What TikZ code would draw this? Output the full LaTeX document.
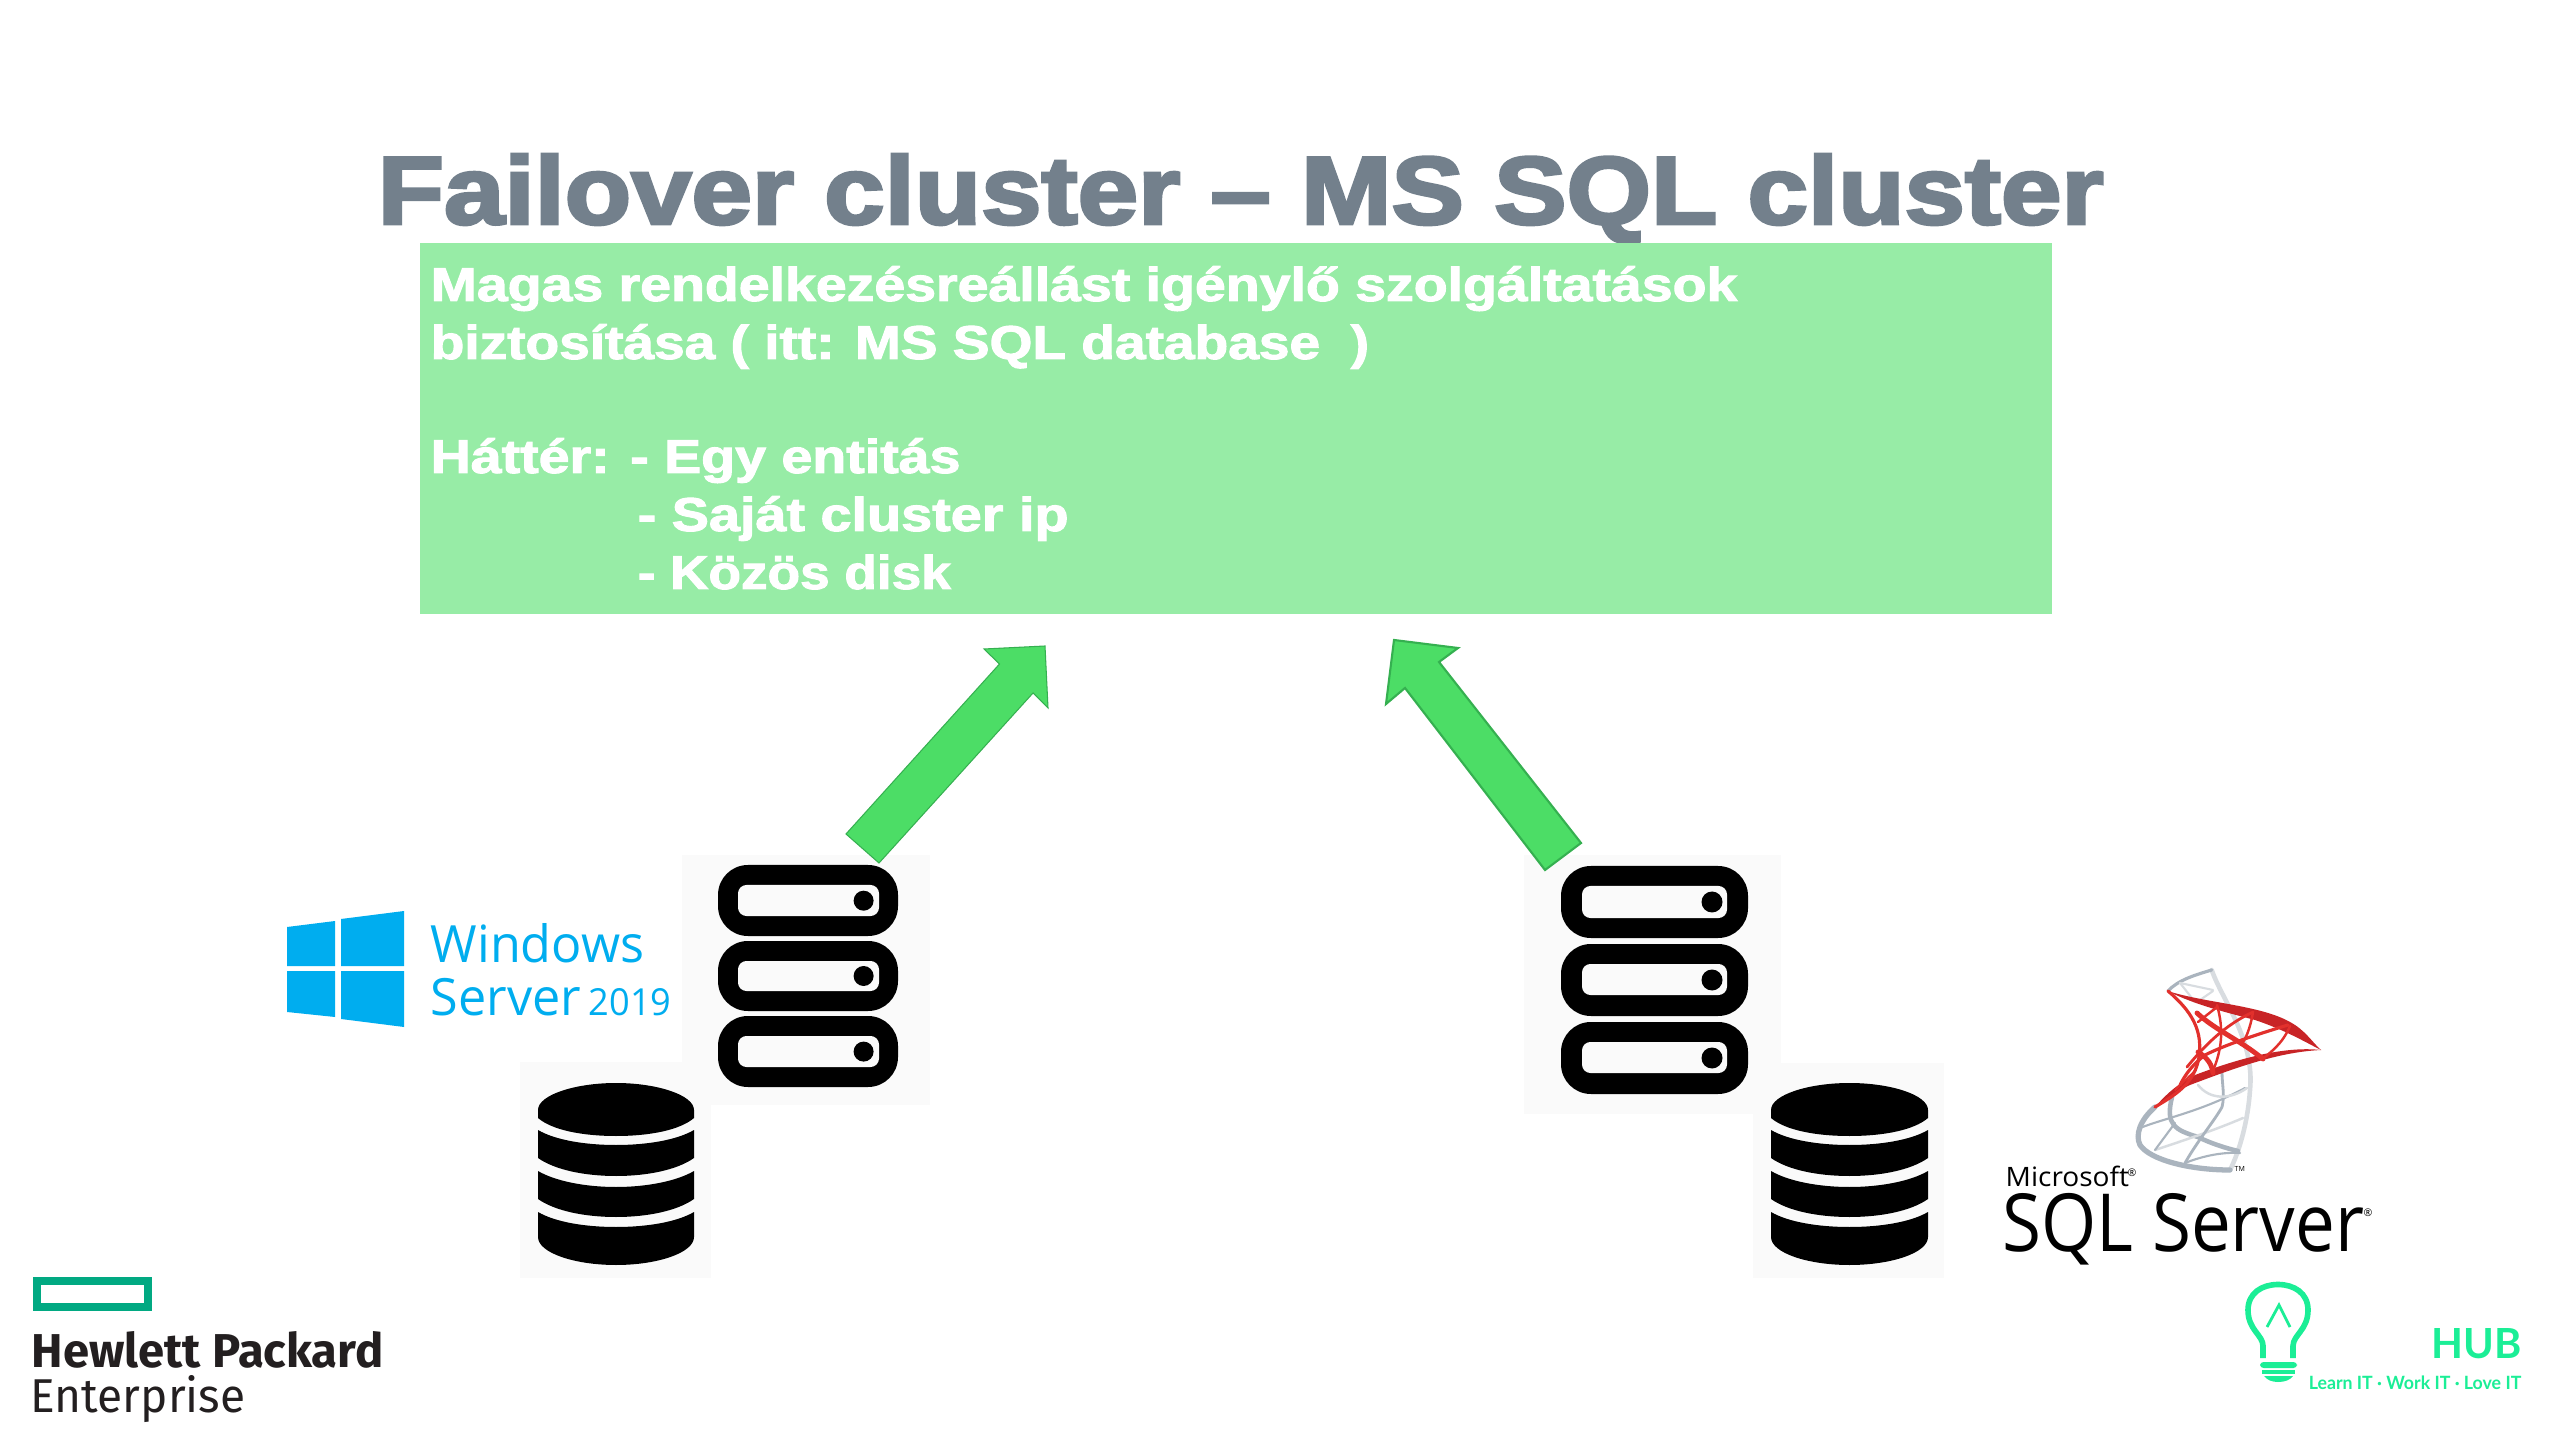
\documentclass[tikz,border=0pt]{standalone}
\usepackage{fontspec}
\setmainfont{Liberation Sans}
\newfontfamily\headfont[FakeBold=3]{Liberation Sans Bold}
\newfontfamily\bodyfont[FakeBold=2]{Liberation Sans Bold}
\newfontfamily\logofont{Open Sans}
\newfontfamily\hpefont{Fira Sans}
\newfontfamily\hpeboldfont{Fira Sans Bold}
\newfontfamily\hubfont{Lato}
\newfontfamily\hubboldfont{Lato Bold}
\definecolor{headgray}{RGB}{115,128,140}
\definecolor{bandgreen}{RGB}{151,236,166}
\definecolor{arrowgreen}{RGB}{76,221,102}
\definecolor{arrowedge}{RGB}{53,176,80}
\definecolor{iconback}{RGB}{250,250,250}
\definecolor{winblue}{RGB}{0,173,239}
\definecolor{hpegreen}{RGB}{1,169,130}
\definecolor{hpeink}{RGB}{35,31,32}
\definecolor{hubgreen}{RGB}{27,238,150}
\definecolor{sqlred}{RGB}{226,48,44}
\definecolor{sqldark}{RGB}{200,36,38}
\definecolor{sqlgray}{RGB}{170,180,190}
\definecolor{sqllight}{RGB}{216,220,224}
\tikzset{
  headline/.style={anchor=base west, inner sep=0pt, text=headgray,
    font=\headfont\fontsize{27.4}{30}\selectfont},
  bodyline/.style={anchor=base west, inner sep=0pt, text=white,
    font=\bodyfont\fontsize{13.5}{15}\selectfont},
  blockarrow/.style={fill=arrowgreen, draw=arrowedge, line join=miter},
  iconpanel/.style={fill=iconback},
  serverouter/.style={fill=black, rounded corners=8.5pt},
  serverinner/.style={fill=iconback, rounded corners=2.4pt},
  winline/.style={anchor=base west, inner sep=0pt, text=winblue},
  sqltext/.style={anchor=base west, inner sep=0pt, text=black},
  hpetext/.style={anchor=base west, inner sep=0pt, text=hpeink},
  hubtext/.style={anchor=base east, inner sep=0pt, text=hubgreen},
  sqlstrand/.style={draw=sqlred, line cap=round},
  grayarc/.style={draw=sqlgray, line cap=round},
  lightarc/.style={draw=sqllight, line cap=round},
}

\begin{document}
\begin{tikzpicture}[x=0.01cm, y=-0.01cm]
  \useasboundingbox (0,0) rectangle (2560,1440);
  \fill[white] (0,0) rectangle (2560,1440);

  % title and text band
  \node[headline] (title) at (377,224) {\scalebox{1.127}[1]{Failover cluster – MS SQL cluster}};
  \fill[bandgreen] (420,243) rectangle (2052,614);
  \node[bodyline] (lineone) at (430,301) {\scalebox{1.168}[1]{Magas rendelkezésreállást igénylő szolgáltatások}};
  \node[bodyline] (linetwo) at (430,359) {\scalebox{1.16}[1]{biztosítása ( itt: MS SQL database \ )}};
  \node[bodyline] (linethree) at (430,473) {\scalebox{1.17}[1]{Háttér: - Egy entitás}};
  \node[bodyline] (linefour) at (637,531) {\scalebox{1.175}[1]{- Saját cluster ip}};
  \node[bodyline] (linefive) at (637,589) {\scalebox{1.12}[1]{- Közös disk}};

  % panels behind the icons
  \fill[iconpanel] (682,855) rectangle (930,1105);
  \fill[iconpanel] (520,1062) rectangle (711,1278);
  \fill[iconpanel] (1524,855) rectangle (1781,1114);
  \fill[iconpanel] (1753,1063) rectangle (1944,1278);

  % block arrows
  \draw[blockarrow, line width=0.3pt] (846,834) -- (999.5,664) -- (984,649) -- (1045,646) -- (1048,708) -- (1033,693) -- (879,863) -- cycle;
  \draw[blockarrow, line width=0.6pt] (1581,843) -- (1439,662) -- (1458,648) -- (1394,640) -- (1386,704) -- (1405,688) -- (1545,870) -- cycle;

  % left server
  \fill[serverouter] (718,865) rectangle (898,936);
  \fill[serverinner] (738,885) rectangle (879,916);
  \fill[black] (863.6,900.7) circle[radius=10];
  \fill[serverouter] (718,941) rectangle (898,1011);
  \fill[serverinner] (738,961) rectangle (879,991);
  \fill[black] (863.6,976) circle[radius=10];
  \fill[serverouter] (718,1016) rectangle (898,1087);
  \fill[serverinner] (738,1036) rectangle (879,1067);
  \fill[black] (863.6,1051.6) circle[radius=10];

  % right server
  \fill[serverouter] (1561,866) rectangle (1748,938);
  \fill[serverinner] (1582,886) rectangle (1727,918);
  \fill[black] (1712,902) circle[radius=10.5];
  \fill[serverouter] (1561,944) rectangle (1748,1016);
  \fill[serverinner] (1582,964) rectangle (1727,995);
  \fill[black] (1712,980) circle[radius=10.5];
  \fill[serverouter] (1561,1022) rectangle (1748,1094);
  \fill[serverinner] (1582,1042) rectangle (1727,1073);
  \fill[black] (1712,1058) circle[radius=10.5];

  % left database
  \fill[black] (538,1118) -- (538,1110) .. controls (538,1095) and (575,1083) .. (616,1083) .. controls (657,1083) and (694,1095) .. (694,1110) -- (694,1118) .. controls (680,1130) and (650,1136) .. (616,1136) .. controls (582,1136) and (552,1130) .. (538,1118) -- cycle;
  \fill[black] (538,1130) .. controls (555,1140) and (585,1145) .. (616,1145) .. controls (647,1145) and (677,1140) .. (694,1130) -- (694,1158) .. controls (677,1170) and (647,1176) .. (616,1176) .. controls (585,1176) and (555,1170) .. (538,1158) -- cycle;
  \fill[black] (538,1171) .. controls (555,1181) and (585,1187) .. (616,1187) .. controls (647,1187) and (677,1181) .. (694,1171) -- (694,1199) .. controls (677,1211) and (647,1217) .. (616,1217) .. controls (585,1217) and (555,1211) .. (538,1199) -- cycle;
  \fill[black] (538,1212) .. controls (555,1222) and (585,1227) .. (616,1227) .. controls (647,1227) and (677,1222) .. (694,1212) -- (694,1237) .. controls (694,1253) and (657,1265) .. (616,1265) .. controls (575,1265) and (538,1253) .. (538,1237) -- cycle;

  % right database
  \fill[black] (1771,1118) -- (1771,1110) .. controls (1771,1095) and (1808,1083) .. (1849.5,1083) .. controls (1891,1083) and (1928,1095) .. (1928,1110) -- (1928,1118) .. controls (1914,1130) and (1884,1136) .. (1849.5,1136) .. controls (1815,1136) and (1785,1130) .. (1771,1118) -- cycle;
  \fill[black] (1771,1130) .. controls (1788,1140) and (1818,1145) .. (1849.5,1145) .. controls (1881,1145) and (1911,1140) .. (1928,1130) -- (1928,1158) .. controls (1911,1170) and (1881,1176) .. (1849.5,1176) .. controls (1818,1176) and (1788,1170) .. (1771,1158) -- cycle;
  \fill[black] (1771,1171) .. controls (1788,1181) and (1818,1187) .. (1849.5,1187) .. controls (1881,1187) and (1911,1181) .. (1928,1171) -- (1928,1199) .. controls (1911,1211) and (1881,1217) .. (1849.5,1217) .. controls (1818,1217) and (1788,1211) .. (1771,1199) -- cycle;
  \fill[black] (1771,1212) .. controls (1788,1222) and (1818,1227) .. (1849.5,1227) .. controls (1881,1227) and (1911,1222) .. (1928,1212) -- (1928,1237) .. controls (1928,1253) and (1891,1265) .. (1849.5,1265) .. controls (1808,1265) and (1771,1253) .. (1771,1237) -- cycle;

  % windows logo
  \fill[winblue] (287,927) -- (335,921) -- (335,966) -- (287,966) -- cycle;
  \fill[winblue] (341,919) -- (404,911) -- (404,966) -- (341,966) -- cycle;
  \fill[winblue] (287,971) -- (335,971) -- (335,1017) -- (287,1012) -- cycle;
  \fill[winblue] (341,971) -- (404,971) -- (404,1027) -- (341,1019) -- cycle;
  \node[winline, font=\logofont\fontsize{14.6}{16}\selectfont] (winone) at (430,962) {\scalebox{0.98}[1]{Windows}};
  \node[winline, font=\logofont\fontsize{14.6}{16}\selectfont] (wintwo) at (430,1015) {\scalebox{0.98}[1]{Server}};
  \node[winline, font=\logofont\fontsize{10.6}{12}\selectfont] (winyear) at (588,1015) {\scalebox{0.97}[1]{2019}};

  % sql server mark, gray part
  \draw[lightarc, line width=1.3pt] (2211.7,970) .. controls (2222,1000) and (2255,1040) .. (2250,1090) .. controls (2248,1120) and (2240,1150) .. (2230,1170);
  \draw[grayarc, line width=0.9pt] (2168,991) .. controls (2178,980) and (2195,975) .. (2211.7,970);
  \draw[lightarc, line width=0.6pt] (2180,983) -- (2195,1002);
  \draw[lightarc, line width=0.6pt] (2180,983) -- (2213,990);
  \draw[lightarc, line width=0.6pt] (2200,1000) -- (2213,991);
  \draw[grayarc, line width=1.5pt] (2155,1107) .. controls (2140,1120) and (2135,1135) .. (2140,1145) .. controls (2150,1160) and (2190,1170) .. (2230,1170);
  \draw[grayarc, line width=1.3pt] (2172,1097) .. controls (2165,1125) and (2175,1130) .. (2198,1137) .. controls (2210,1143) and (2225,1148) .. (2238,1151);
  \draw[grayarc, line width=0.6pt] (2140,1128) .. controls (2165,1118) and (2200,1112) .. (2245,1088);
  \draw[lightarc, line width=0.7pt] (2155,1150) .. controls (2185,1140) and (2215,1130) .. (2243,1118);
  \draw[grayarc, line width=0.6pt] (2185,1163) .. controls (2205,1155) and (2225,1152) .. (2240,1153);
  \draw[grayarc, line width=0.6pt] (2155,1150) -- (2175,1123);
  \draw[grayarc, line width=0.8pt] (2185,1163) .. controls (2198,1140) and (2215,1120) .. (2222,1107) .. controls (2225,1095) and (2222,1085) .. (2222,1072);
  \draw[lightarc, line width=0.7pt] (2198,1085) .. controls (2210,1100) and (2230,1100) .. (2247,1088);

  % sql server mark, red part
  \fill[sqldark] (2167.7,991) .. controls (2205,1003) and (2260,1005) .. (2290,1022) .. controls (2305,1030) and (2312,1042) .. (2321,1050) .. controls (2305,1042) and (2285,1030) .. (2255,1020) .. controls (2225,1012) and (2195,1005) .. (2167.7,991) -- cycle;
  \fill[sqldark] (2321,1050) .. controls (2280,1052) and (2240,1066) .. (2190,1085) .. controls (2175,1092) and (2165,1100) .. (2155,1107) .. controls (2170,1090) and (2180,1083) .. (2195,1075) .. controls (2240,1058) and (2285,1046) .. (2321,1050) -- cycle;
  \draw[sqlstrand, line width=0.9pt] (2168,991) .. controls (2190,1010) and (2205,1030) .. (2198,1062) .. controls (2192,1085) and (2175,1095) .. (2155,1107);
  \draw[sqlstrand, line width=0.7pt] (2217,1005) .. controls (2224,1030) and (2222,1050) .. (2212,1073);
  \draw[sqlstrand, line width=0.7pt] (2253,1012) .. controls (2250,1030) and (2245,1040) .. (2241,1045);
  \draw[sqlstrand, line width=0.7pt] (2290,1026) .. controls (2282,1045) and (2270,1052) .. (2263,1059);
  \draw[sqlstrand, line width=0.7pt] (2198,1022) -- (2217,1007);
  \draw[sqlstrand, line width=1.4pt] (2197,1013) .. controls (2215,1030) and (2240,1040) .. (2263,1059);
  \draw[sqlstrand, line width=0.9pt] (2288,1025) .. controls (2255,1035) and (2225,1045) .. (2205,1055) .. controls (2192,1065) and (2185,1075) .. (2180,1085);
  \draw[sqlstrand, line width=0.8pt] (2253,1012) .. controls (2225,1025) and (2205,1045) .. (2187,1067);
  \draw[sqlstrand, line width=1.4pt] (2198,1052) .. controls (2208,1058) and (2212,1065) .. (2213,1073);
  \draw[sqlstrand, line width=0.6pt] (2196,1070) -- (2175,1090);

  % sql server words
  \node[sqltext, font=\logofont\fontsize{7.6}{9}\selectfont] (microsoft) at (2005,1186) {\scalebox{1.05}[1]{Microsoft}};
  \node[sqltext, font=\logofont\fontsize{22.8}{25}\selectfont] (sqlserver) at (2002,1251) {\scalebox{0.885}[1]{SQL Server}};
  \node[sqltext, font=\logofont\fontsize{3}{4}\selectfont] (regone) at (2127,1176) {®};
  \node[sqltext, font=\logofont\fontsize{3}{4}\selectfont] (regtwo) at (2363,1216) {®};
  \node[sqltext, font=\logofont\fontsize{2}{3}\selectfont] (trademark) at (2234,1171) {TM};

  % hub logo
  \draw[hubgreen, line width=1.6pt, line join=round] (2263,1358) -- (2263,1346) .. controls (2263,1335) and (2248,1330) .. (2248,1310) .. controls (2248,1293) and (2262,1284.5) .. (2278,1284.5) .. controls (2294,1284.5) and (2308,1293) .. (2308,1310) .. controls (2308,1330) and (2293,1335) .. (2293,1346) -- (2293,1358);
  \draw[hubgreen, line width=0.8pt] (2267,1327) -- (2279,1305) -- (2290,1327);
  \fill[hubgreen, rounded corners=1pt] (2260,1362) rectangle (2297,1368);
  \fill[hubgreen] (2262,1370) rectangle (2295,1374);
  \fill[hubgreen] (2264,1376) -- (2293,1376) .. controls (2290,1380) and (2285,1382) .. (2278,1382) .. controls (2272,1382) and (2267,1380) .. (2264,1376) -- cycle;
  \node[hubtext, font=\hubboldfont\fontsize{11.8}{13}\selectfont] (hubname) at (2522,1358) {HUB};
  \node[hubtext, font=\hubboldfont\fontsize{5.2}{6}\selectfont] (hubmotto) at (2522,1389) {\scalebox{0.97}[1]{Learn IT · Work IT · Love IT}};

  % hpe logo
  \draw[hpegreen, line width=2.2pt] (37,1281) rectangle (148,1307);
  \node[hpetext, font=\hpeboldfont\fontsize{13.5}{15}\selectfont] (hpeone) at (31,1367) {\scalebox{0.995}[1]{Hewlett Packard}};
  \node[hpetext, font=\hpefont\fontsize{13.5}{15}\selectfont] (hpetwo) at (30,1412) {\scalebox{0.97}[1]{Enterprise}};
\end{tikzpicture}
\end{document}
